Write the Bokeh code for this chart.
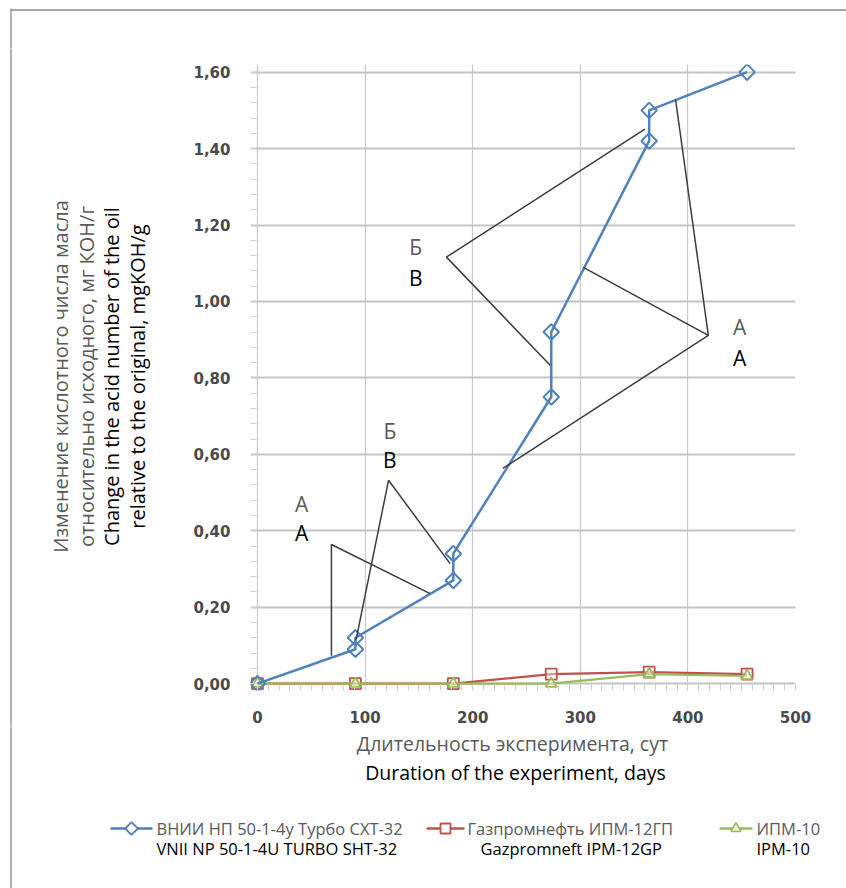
from bokeh.plotting import figure
from bokeh.layouts import column, row
from bokeh.models import FixedTicker, Range1d, CustomJSTickFormatter, Plot
from bokeh.core.properties import value
from bokeh.embed import file_html
from bokeh.resources import INLINE

# ---------------- data ----------------
days_vnii = [0, 91, 91, 182, 182, 273, 273, 364, 364, 455]
acid_vnii = [0.00, 0.09, 0.12, 0.27, 0.34, 0.75, 0.92, 1.42, 1.50, 1.60]
days_other = [0, 91, 182, 273, 364, 455]
acid_gpn = [0.00, 0.00, 0.00, 0.025, 0.03, 0.025]
acid_ipm = [0.00, 0.00, 0.00, 0.00, 0.025, 0.02]

x_ticks = [0, 100, 200, 300, 400, 500]
y_ticks = [0.0, 0.2, 0.4, 0.6, 0.8, 1.0, 1.2, 1.4, 1.6]
y_tick_labels = ["0,00", "0,20", "0,40", "0,60", "0,80", "1,00", "1,20", "1,40", "1,60"]

names_ru = ["ВНИИ НП 50-1-4у Турбо СХТ-32", "Газпромнефть ИПМ-12ГП", "ИПМ-10"]
names_en = ["VNII NP 50-1-4U TURBO SHT-32", "Gazpromneft IPM-12GP", "IPM-10"]
series_colors = ["#4f81bd", "#c0504d", "#9bbb59"]

x_title_ru = "Длительность эксперимента, сут"
x_title_en = "Duration of the experiment, days"
y_title = ["Изменение кислотного числа масла",
           "относительно исходного, мг КОН/г",
           "Change in the acid number of the oil",
           "relative to the original, mgKOH/g"]

# leader lines of the callouts (data units)
leader_xs = [[68.7, 68.7, 160.0],
             [91.5, 121.8, 179.0],
             [272.0, 175.6, 360.0],
             [388.5, 419.0, 228.0],
             [302.8, 419.0]]
leader_ys = [[0.073, 0.364, 0.236],
             [0.113, 0.532, 0.314],
             [0.833, 1.116, 1.451],
             [1.529, 0.911, 0.563],
             [1.089, 0.911]]
callout_ru = ["А", "Б", "Б", "А"]
callout_en = ["A", "B", "B", "A"]
callout_x = [41.0, 123.0, 147.0, 448.0]
callout_y_ru = [0.471, 0.660, 1.142, 0.932]
callout_y_en = [0.393, 0.584, 1.061, 0.851]

# ---------------- page geometry ----------------
OX, OY = 9, 8               # page position of layout content
W = 837
HS = 40                     # top strip (carries the top border)
WL = 181                    # y-title strip width
RY0 = OY + HS               # page y of chart row
FRAME_TOP_PAGE = 64
FL, FW, FH = 56, 549, 626
FT = FRAME_TOP_PAGE - RY0
FB = 36
H1 = FT + FH + FB
QY0 = RY0 + H1              # page y of lower strip
H2 = 888 - QY0
WP = W - WL
BORDER = "#8a8a8a"
BX = OX + 1.5               # x of the left border line

has_align = "frame_align" in Plot.properties()

def base_fig(**kw):
    f = figure(output_backend="svg", toolbar_location=None, title=None, **kw)
    if has_align:
        f.frame_align = False
    return f

def blank_fig(w, h, xr, yr):
    f = base_fig(width=w, height=h, x_range=Range1d(*xr), y_range=Range1d(*yr),
                 x_axis_location=None, y_axis_location=None,
                 min_border=0, min_border_left=0, min_border_right=0,
                 min_border_top=0, min_border_bottom=0)
    f.outline_line_color = None
    f.grid.visible = False
    return f

def left_border(f, y0, y1):
    f.line([BX, BX], [-(y0 - 5), -(y1 + 5)], line_color=BORDER, line_width=1.3)

# ---------------- top strip ----------------
top = blank_fig(W, HS, (OX, OX + W), (-(OY + HS), -OY))
top.line([BX, OX + W + 5], [-OY - 1.5, -OY - 1.5], line_color=BORDER, line_width=1.3)
left_border(top, OY + 1.5, OY + HS)

# ---------------- main chart ----------------
p = base_fig(width=WP, height=H1, x_range=Range1d(-6.5, 500), y_range=Range1d(-0.018, 1.62),
             min_border_left=FL, min_border_top=FT,
             min_border_right=WP - FL - FW, min_border_bottom=FB)
p.outline_line_color = None
p.background_fill_color = "white"
p.border_fill_color = "white"

p.xaxis.ticker = FixedTicker(ticks=x_ticks, minor_ticks=list(range(0, 501, 10)))
p.yaxis.ticker = FixedTicker(ticks=y_ticks, minor_ticks=[i * 0.04 for i in range(41)])
p.yaxis.formatter = CustomJSTickFormatter(args=dict(tvals=y_ticks, tlabels=y_tick_labels), code="""
let best = 0;
for (let i = 0; i < tvals.length; i++) {
  if (Math.abs(tvals[i] - tick) < Math.abs(tvals[best] - tick)) best = i;
}
return tlabels[best];
""")
for ax in (p.xaxis, p.yaxis):
    ax.axis_line_color = None
    ax.major_tick_line_color = None
    ax.minor_tick_line_color = "#cfcfcf"
    ax.minor_tick_in = 6
    ax.minor_tick_out = 0
    ax.major_label_text_font = "DejaVu Sans"
    ax.major_label_text_font_style = "bold"
    ax.major_label_text_font_size = "15px"
    ax.major_label_text_color = "#4a4a4a"
p.yaxis.major_label_standoff = 14
p.xaxis.major_label_standoff = 14

p.ygrid.grid_line_color = "#c4c4c4"
p.ygrid.grid_line_width = 2
p.xgrid.grid_line_color = "#c8c8c8"
p.xgrid.grid_line_width = 1.2

p.line(days_other, acid_gpn, line_color=series_colors[1], line_width=2.2)
p.scatter(days_other, acid_gpn, marker="square", size=11,
          line_color=series_colors[1], line_width=1.8, fill_color="white", fill_alpha=0.4)
p.line(days_other, acid_ipm, line_color=series_colors[2], line_width=2.2)
p.scatter(days_other, acid_ipm, marker="triangle", size=11,
          line_color=series_colors[2], line_width=1.8, fill_color="white", fill_alpha=0.4)
p.line(days_vnii, acid_vnii, line_color=series_colors[0], line_width=2.5)
p.scatter(days_vnii, acid_vnii, marker="square", angle=0.785398, size=11,
          line_color=series_colors[0], line_width=2, fill_color=None)

p.multi_line(xs=leader_xs, ys=leader_ys, line_color="#3c3c3c", line_width=1.5)
p.text(x=callout_x, y=callout_y_ru, text=callout_ru, text_font=value("Open Sans"),
       text_font_size="21px", text_color="#595959", text_align="center", text_baseline="middle")
p.text(x=callout_x, y=callout_y_en, text=callout_en, text_font=value("Open Sans"),
       text_font_size="21px", text_color="black", text_align="center", text_baseline="middle")

# ---------------- y-title strip (page coordinates, y negated) ----------------
yt = blank_fig(WL, H1, (OX, OX + WL), (-(RY0 + H1), -RY0))
left_border(yt, RY0, RY0 + H1)
yt.text(x=[60, 86, 111, 137], y=[-376] * 4, text=y_title, angle=1.5707963,
        text_color=["#595959", "#595959", "black", "black"],
        text_font=value("Open Sans"), text_font_size="20px",
        text_align="center", text_baseline="middle")

# ---------------- lower strip: x title and legend ----------------
q = blank_fig(W, H2, (OX, OX + W), (-(QY0 + H2), -QY0))
left_border(q, QY0, QY0 + H2)

q.text(x=[512, 515], y=[-743, -772], text=[x_title_ru, x_title_en],
       text_color=["#595959", "black"], text_font=value("Open Sans"), text_font_size="19.5px",
       text_align="center", text_baseline="middle")

leg_line_x0 = [110, 426, 719]
leg_line_x1 = [152, 464, 752]
leg_ru_x = [156, 467, 756]
leg_en_x = [156, 480, 756]
leg_y_ru, leg_y_en = -828, -848
leg_marker = ["square", "square", "triangle"]
leg_angle = [0.785398, 0.0, 0.0]
leg_size = [9, 10, 10]
for i in range(3):
    q.line([leg_line_x0[i], leg_line_x1[i]], [leg_y_ru, leg_y_ru],
           line_color=series_colors[i], line_width=2.5)
    q.scatter([(leg_line_x0[i] + leg_line_x1[i]) / 2], [leg_y_ru], marker=leg_marker[i],
              angle=leg_angle[i], size=leg_size[i], line_color=series_colors[i],
              line_width=1.8, fill_color="white")
q.text(x=leg_ru_x, y=[leg_y_ru] * 3, text=names_ru, text_color="#595959",
       text_font=value("Open Sans"), text_font_size="16.5px",
       text_align="left", text_baseline="middle")
q.text(x=leg_en_x, y=[leg_y_en] * 3, text=names_en, text_color="black",
       text_font=value("Open Sans"), text_font_size="16.5px",
       text_align="left", text_baseline="middle")

layout = column(top, row(yt, p, spacing=0), q, spacing=0)
layout.margin = (OY, 0, 0, OX)

open("out.html", "w").write(file_html(layout, INLINE))
